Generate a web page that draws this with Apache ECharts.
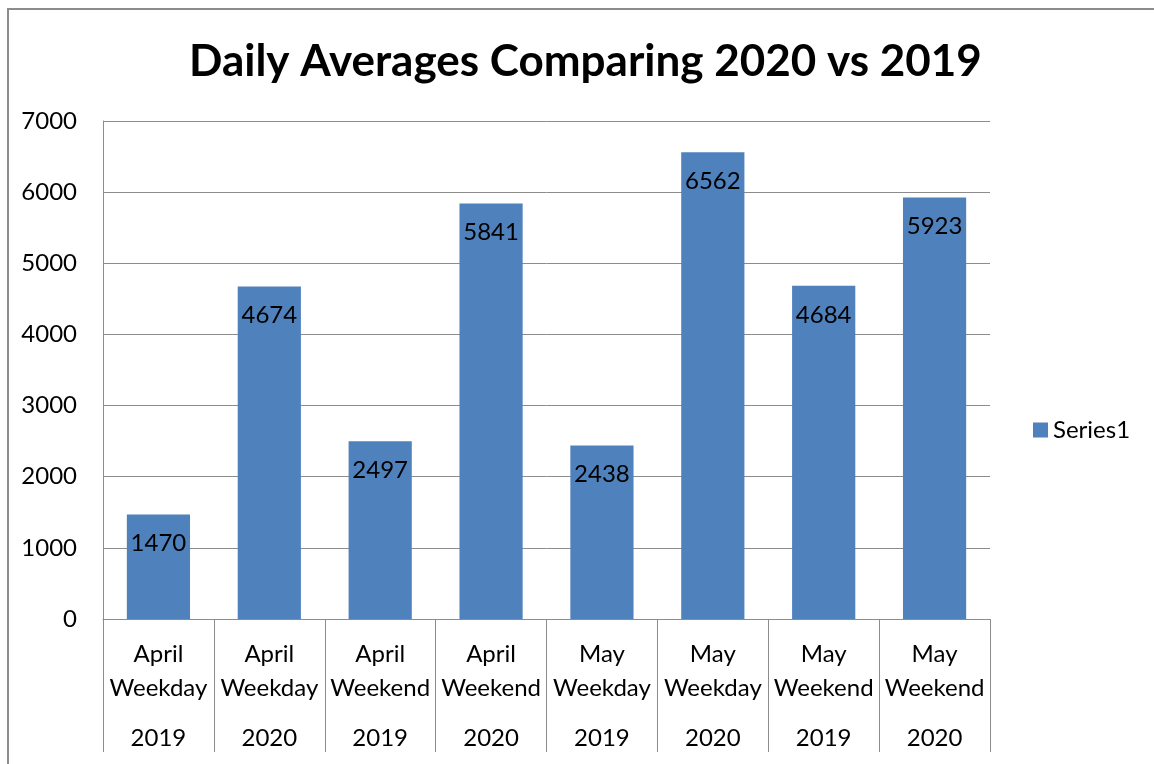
<!DOCTYPE html>
<html><head><meta charset="utf-8">
<script src="https://cdn.jsdelivr.net/npm/echarts@6/dist/echarts.min.js"></script>
<style>html,body{margin:0;padding:0;background:#fff}#c{width:1154px;height:764px}</style>
</head><body><div id="c"></div>
<script>
const months = ['April','April','April','April','May','May','May','May'];
const dayTypes = ['Weekday','Weekday','Weekend','Weekend','Weekday','Weekday','Weekend','Weekend'];
const years = ['2019','2020','2019','2020','2019','2020','2019','2020'];
const series1 = [1470, 4674, 2497, 5841, 2438, 6562, 4684, 5923];
const categories = months.map((m,i)=>m+'|'+dayTypes[i]+'|'+years[i]);
const FONT = 'Lato';
const FS = 24;
const chart = echarts.init(document.getElementById('c'));
chart.setOption({
  animation:false,
  textStyle:{fontFamily:FONT},
  title:{text:'Daily Averages Comparing 2020 vs 2019',left:184,top:35,
    textStyle:{fontFamily:FONT,fontSize:44,fontWeight:'bold',color:'#000'}},
  legend:{orient:'vertical',left:1028,top:413,itemWidth:15,itemHeight:15,itemGap:8,
    textStyle:{fontFamily:FONT,fontSize:FS,color:'#000'},icon:'rect'},
  graphic:[{type:'rect',shape:{x:8,y:9,width:1200,height:800},style:{fill:'none',stroke:'#8c8c8c',lineWidth:2},z:-1}],
  grid:{left:103,right:164,top:121,bottom:145},
  xAxis:{type:'category',data:categories,
    axisLine:{lineStyle:{color:'#8c8c8c',width:1}},
    axisTick:{show:true,length:133,interval:0,lineStyle:{color:'#8c8c8c'}},
    axisLabel:{interval:0,margin:18,color:'#000',
      formatter:v=>{const p=v.split('|');return '{a|'+p[0]+'}\n{a|'+p[1]+'}\n{b|'+p[2]+'}';},
      rich:{a:{fontFamily:FONT,fontSize:FS,lineHeight:34,color:'#000'},b:{fontFamily:FONT,fontSize:FS,lineHeight:66,color:'#000'}}}},
  yAxis:{type:'value',min:0,max:7000,interval:1000,
    axisLine:{show:true,lineStyle:{color:'#8c8c8c'}},
    axisTick:{show:false},
    splitLine:{lineStyle:{color:'#8c8c8c'}},
    axisLabel:{margin:26,color:'#000',fontFamily:FONT,fontSize:FS,formatter:v=>String(v)}},
  series:[{name:'Series1',type:'bar',data:series1,barWidth:'57%',
    itemStyle:{color:'#4f81bd'},
    label:{show:true,position:'insideTop',distance:17,color:'#000',fontFamily:FONT,fontSize:FS}}]
});
</script></body></html>
